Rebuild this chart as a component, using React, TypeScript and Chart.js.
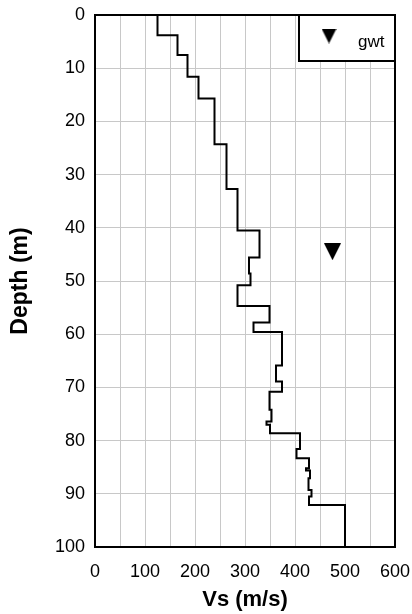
import { useEffect, useRef } from "react";
import { Chart, registerables } from "chart.js";

Chart.register(...registerables);

// Shear-wave velocity profile: layer boundaries (m) and layer Vs (m/s)
const layerBoundaries = [
  0, 3.8, 7.5, 11.6, 15.7, 24.3, 32.7, 40.5, 45.6, 48.6, 50.8, 54.7, 57.8, 59.6,
  65.9, 68.9, 70.8, 74.2, 76.4, 77.0, 78.6, 81.6, 83.3, 85.2, 85.6, 87.1, 89.3,
  90.5, 92.1, 100,
];
const layerVs = [
  125, 165, 185, 207, 239, 263, 285, 329, 308, 311, 285, 349, 317, 374, 362, 374,
  349, 353, 343, 350, 410, 403, 428, 422, 430, 427, 433, 428, 500,
];

// Groundwater table marker
const gwtLabel = "gwt";
const gwtVs = [475];
const gwtDepth = [44.5];

// Axis ranges and tick spacing
const xTitle = "Vs (m/s)";
const yTitle = "Depth (m)";
const xRange = [0, 600];
const yRange = [0, 100];
const xGridStep = 50;
const xLabelStep = 100;
const yStep = 10;

const FONT = "'Liberation Sans', Arial, Helvetica, sans-serif";

function stepPoints() {
  const pts: { x: number; y: number }[] = [];
  for (let i = 0; i < layerVs.length; i++) {
    pts.push({ x: layerVs[i], y: layerBoundaries[i] });
    pts.push({ x: layerVs[i], y: layerBoundaries[i + 1] });
  }
  return pts;
}

function makeTriangle(w: number, h: number) {
  const c = document.createElement("canvas");
  c.width = w;
  c.height = h;
  const g = c.getContext("2d")!;
  g.fillStyle = "#000";
  g.beginPath();
  g.moveTo(0, 0);
  g.lineTo(w, 0);
  g.lineTo(w / 2, h);
  g.closePath();
  g.fill();
  return c;
}

export default function App() {
  const ref = useRef<HTMLCanvasElement | null>(null);

  useEffect(() => {
    document.body.style.margin = "0";
    const canvas = ref.current;
    if (!canvas) return;

    const marker = makeTriangle(17, 17);
    const legendMarker = makeTriangle(15, 15);

    const frame = {
      id: "plotFrame",
      afterDatasetsDraw(chart: Chart) {
        const { ctx, chartArea: a } = chart;
        ctx.save();
        ctx.strokeStyle = "#000";
        ctx.lineWidth = 2;
        ctx.strokeRect(a.left, a.top, a.right - a.left, a.bottom - a.top);
        ctx.restore();
      },
    };

    const legendBox = {
      id: "legendBox",
      afterDraw(chart: Chart) {
        const { ctx, chartArea: a } = chart;
        const w = 96;
        const h = 46;
        const left = a.right - w;
        const top = a.top;
        ctx.save();
        ctx.fillStyle = "#fff";
        ctx.fillRect(left, top, w, h);
        ctx.strokeStyle = "#000";
        ctx.lineWidth = 2;
        ctx.strokeRect(left, top, w, h);
        ctx.drawImage(legendMarker, left + 30 - 7.5, top + 21 - 7.5);
        ctx.fillStyle = "#000";
        ctx.font = `17px ${FONT}`;
        ctx.textBaseline = "alphabetic";
        ctx.textAlign = "left";
        ctx.fillText(String(chart.data.datasets[1].label), left + 59, top + 32);
        ctx.restore();
      },
    };

    const chart = new Chart(canvas, {
      type: "scatter",
      data: {
        datasets: [
          {
            label: "Vs",
            data: stepPoints(),
            showLine: true,
            borderColor: "#000",
            borderWidth: 2,
            pointRadius: 0,
            fill: false,
          },
          {
            label: gwtLabel,
            data: gwtVs.map((v, i) => ({ x: v, y: gwtDepth[i] })),
            pointStyle: marker,
            pointRadius: 9,
            backgroundColor: "#000",
            borderColor: "#000",
          },
        ],
      },
      options: {
        responsive: false,
        animation: false,
        layout: { padding: { top: 15, right: 17, left: 0, bottom: 0 } },
        plugins: {
          legend: { display: false },
          tooltip: { enabled: false },
        },
        scales: {
          x: {
            type: "linear",
            min: xRange[0],
            max: xRange[1],
            afterFit(scale: any) {
              scale.height = 67;
              scale.paddingLeft = 0;
              scale.paddingRight = 0;
            },
            ticks: {
              stepSize: xGridStep,
              color: "#000",
              padding: 14,
              maxRotation: 0,
              autoSkip: false,
              font: { family: FONT, size: 18 },
              callback: (v: any) => (Number(v) % xLabelStep === 0 ? String(v) : ""),
            },
            grid: { color: "#c8c8c8", lineWidth: 1, drawTicks: false },
            border: { display: false },
            title: {
              display: true,
              text: xTitle,
              color: "#000",
              font: { family: FONT, size: 22, weight: "bold" },
              padding: { top: 0, bottom: 1 },
            },
          },
          y: {
            type: "linear",
            reverse: true,
            min: yRange[0],
            max: yRange[1],
            afterFit(scale: any) {
              scale.width = 95;
              scale.paddingTop = 0;
              scale.paddingBottom = 0;
            },
            ticks: {
              stepSize: yStep,
              color: "#000",
              padding: 10,
              autoSkip: false,
              font: { family: FONT, size: 18 },
            },
            grid: { color: "#c8c8c8", lineWidth: 1, drawTicks: false },
            border: { display: false },
            title: {
              display: true,
              text: yTitle,
              color: "#000",
              font: { family: FONT, size: 23, weight: "bold" },
              padding: { top: 7, bottom: 0 },
            },
          },
        },
      },
      plugins: [frame, legendBox],
    });

    return () => chart.destroy();
  }, []);

  return <canvas ref={ref} width={412} height={614} style={{ display: "block" }} />;
}
